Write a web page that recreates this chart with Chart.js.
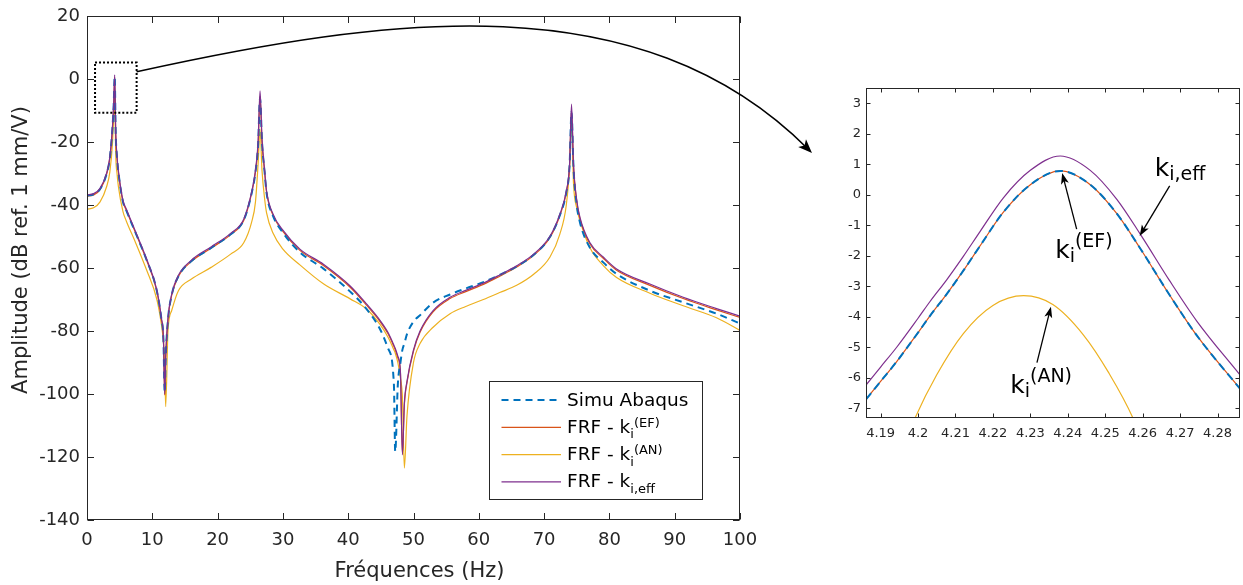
<!DOCTYPE html>
<html lang="fr">
<head>
  <meta charset="UTF-8">
  <title>FRF - zoom sur le premier mode</title>
  <script src="https://cdn.jsdelivr.net/npm/chart.js"></script>
  <style>
    body { margin: 0; background: #fff; }
    #page { position: relative; width: 1243px; height: 585px; overflow: hidden; }
    #boiteFRF { position: absolute; left: 0; top: 0; width: 760px; height: 585px; }
    #boiteZoom { position: absolute; left: 820px; top: 80px; width: 423px; height: 370px; }
    #fleche { position: absolute; left: 0; top: 0; pointer-events: none; }
  </style>
</head>
<body>
<div id="page">
  <div id="boiteFRF"><canvas id="graficoFRF"></canvas></div>
  <div id="boiteZoom"><canvas id="graficoZoom"></canvas></div>
  <canvas id="fleche" width="1243" height="585"></canvas>
</div>

<script>
// ---- valeurs (Hz, dB ref. 1 mm/V) ----
const freq = [0, 1, 2, 3, 3.5, 3.9, 4.1, 4.24, 4.4, 4.6,
  4.8, 5.5, 6, 7.35, 9.1, 10.7, 11.4, 11.7, 11.9, 12.05,
  12.4, 12.97, 14, 16, 19, 22, 24, 25.2, 25.8, 26.2,
  26.5, 26.8, 27.2, 27.5, 28.5, 30, 32.6, 36.2, 40.3, 42.8,
  44.9, 46.1, 47, 47.2, 47.6, 48, 48.3, 48.6, 49, 50,
  51, 53, 55.6, 58, 60.7, 63.2, 65.8, 68.4, 70.9, 72.4,
  73.4, 73.9, 74.2, 74.5, 75, 75.5, 77, 79.1, 81.1, 86.2,
  91.3, 96.4, 100];

const simuAbaqus = [-37, -36.6, -34.9, -30.1, -25, -15.6, -7.6, 0.8, -17.5, -25,
  -29.4, -38.9, -41.6, -48.4, -57.3, -67.3, -76.3, -82.5, -99.5, -88.5,
  -76.4, -68.6, -62.6, -57.8, -53.6, -49.3, -44.8, -36.4, -29.5, -21,
  -6, -20, -29.6, -36.2, -43.5, -48.8, -55, -60.2, -67.5, -73,
  -79.5, -85.5, -97, -118.3, -97, -90, -86, -84, -81, -77,
  -75, -71, -68.4, -66.5, -64.5, -62.2, -59.5, -55.8, -50.1, -43.3,
  -36, -27.6, -10.5, -28, -40, -45.6, -53.5, -58.3, -61.9, -67.2,
  -70.9, -74.5, -77.6];

const kEF = [-37.2, -36.8, -35.1, -30.3, -25.1, -15.6, -7.6, 0.8, -17.5, -25,
  -29.4, -38.9, -41.6, -48.4, -57.4, -67.4, -76.4, -82.4, -100.3, -88.4,
  -76.4, -68.7, -62.7, -57.9, -53.7, -49.4, -44.9, -36.4, -29.5, -21,
  -5.5, -19.8, -29.5, -36, -43.3, -48.4, -54.4, -59.2, -66.1, -71.8,
  -77.1, -80.9, -84.9, -85.9, -88.4, -93.4, -119, -103.4, -96.4, -86.4,
  -80.4, -73.9, -69.7, -67.5, -65.2, -62.6, -59.7, -56, -50.3, -43.4,
  -36, -27.5, -10, -27.5, -38.9, -44.4, -52.3, -57, -60.7, -65.5,
  -69.7, -73.3, -75.7];

const kAN = [-41.3, -40.9, -39, -34.2, -29.5, -20.4, -11, -3.3, -24, -30,
  -34, -42, -45, -51.5, -60.5, -70, -78, -83.5, -91, -104,
  -80, -73.5, -67.2, -63.5, -59.8, -55.6, -52, -45.5, -39, -27,
  -16, -29, -38, -42.5, -49, -54, -59, -65, -69.8, -73,
  -78, -82, -86, -87, -90, -95, -101, -123.5, -107, -90,
  -84, -78.8, -74.5, -72.2, -70, -67.8, -65.5, -62, -56.5, -49.3,
  -40, -28, -13, -33, -41, -45, -53.5, -59.3, -63, -68,
  -72, -75.8, -79.8];

const kEff = [-36.8, -36.4, -34.7, -29.9, -24.7, -15.1, -7, 1.3, -17, -24.5,
  -29, -38.5, -41.2, -48, -57, -67, -76, -82, -100, -88,
  -76, -68.3, -62.3, -57.5, -53.3, -49, -44.5, -36, -29, -20,
  -3.8, -19, -29, -35.6, -42.9, -48, -54, -58.8, -65.7, -71.4,
  -76.7, -80.5, -84.5, -85.5, -88, -93, -119.3, -103, -96, -86,
  -80, -73.5, -69.3, -67.1, -64.8, -62.2, -59.3, -55.6, -49.9, -43,
  -35.6, -27, -8, -27, -38.5, -44, -51.9, -56.6, -60.3, -65.1,
  -69.3, -72.9, -75.3];

const ticksFreq = [0, 10, 20, 30, 40, 50, 60, 70, 80, 90, 100];
const ticksDb = [-140, -120, -100, -80, -60, -40, -20, 0, 20];

// zoom autour du premier mode
const freqZoom = [4.1861, 4.19, 4.1943, 4.2, 4.2032, 4.2077, 4.2121, 4.2166, 4.2228, 4.23,
  4.238, 4.246, 4.2531, 4.2594, 4.2671, 4.2745, 4.286];
const simuZoom = [-6.71, -6.12, -5.47, -4.52, -3.97, -3.25, -2.49, -1.67, -0.57, 0.33,
  0.78, 0.33, -0.62, -1.77, -3.27, -4.62, -6.36];
const kEFZoom = [-6.71, -6.12, -5.47, -4.52, -3.97, -3.25, -2.49, -1.67, -0.57, 0.33,
  0.78, 0.33, -0.62, -1.77, -3.27, -4.62, -6.36];
const kEffZoom = [-6.24, -5.65, -5.0, -4.05, -3.5, -2.78, -2.02, -1.2, -0.1, 0.8,
  1.27, 0.8, -0.15, -1.3, -2.8, -4.15, -5.91];
const freqZoomAN = [4.19, 4.1992, 4.205, 4.2121, 4.22, 4.2282, 4.236, 4.2442, 4.251, 4.2574, 4.266];
const kANZoom = [-10.2, -7.32, -5.9, -4.55, -3.63, -3.31, -3.6, -4.6, -5.85, -7.32, -10.1];

const ticksFreqZoom = [4.19, 4.2, 4.21, 4.22, 4.23, 4.24, 4.25, 4.26, 4.27, 4.28];
const ticksDbZoom = [-7, -6, -5, -4, -3, -2, -1, 0, 1, 2, 3];

// cadre pointillé (Hz, dB) et départ de la flèche courbe
const cadreZoomF = [1.23, 7.6];
const cadreZoomDb = [-10.7, 5.2];
const departFlecheDb = 2.3;

const BLEU = '#0072BD', ROUGE = '#D95319', JAUNE = '#EDB120', VIOLET = '#7E2F8E';
const GRIS = '#262626';
const POLICE = '"DejaVu Sans", sans-serif';

Chart.defaults.font.family = POLICE;
Chart.defaults.color = GRIS;

function points(xs, ys) {
  return xs.map((x, i) => ({ x: x, y: ys[i] }));
}

function serie(label, xs, ys, couleur, largeur, tirets, ordre) {
  return {
    label: label, data: points(xs, ys),
    borderColor: couleur, backgroundColor: couleur,
    borderWidth: largeur, borderDash: tirets,
    pointRadius: 0, fill: false, order: ordre,
    cubicInterpolationMode: 'monotone'
  };
}

// pas de marge automatique pour les étiquettes qui débordent
function sansMarge(s) {
  s.paddingLeft = 0; s.paddingRight = 0; s.paddingTop = 0; s.paddingBottom = 0;
}

// texte avec indices (1) et exposants (-1)
function texteRiche(ctx, x, y, morceaux, grand, petit, dInd, dExp) {
  let cx = x;
  morceaux.forEach(([t, k]) => {
    ctx.font = (k === 0 ? grand : petit) + 'px ' + POLICE;
    const dy = k === 1 ? dInd : (k === -1 ? dExp : 0);
    ctx.fillText(t, cx, y + dy);
    cx += ctx.measureText(t).width;
  });
}

function pointeFleche(ctx, x0, y0, x1, y1, long, demi) {
  const a = Math.atan2(y1 - y0, x1 - x0), c = Math.cos(a), s = Math.sin(a);
  ctx.beginPath();
  ctx.moveTo(x1, y1);
  ctx.lineTo(x1 - long * c + demi * s, y1 - long * s - demi * c);
  ctx.lineTo(x1 - 0.75 * long * c, y1 - 0.75 * long * s);
  ctx.lineTo(x1 - long * c - demi * s, y1 - long * s + demi * c);
  ctx.closePath();
  ctx.fill();
}

// axes en boîte, graduations vers l'intérieur
const cadre = {
  id: 'cadre',
  afterDatasetsDraw(chart, args, opts) {
    const { ctx, chartArea: a, scales: { x, y } } = chart;
    const L = Math.round(a.left) + 0.5, R = Math.round(a.right) - 0.5;
    const T = Math.round(a.top) + 0.5, B = Math.round(a.bottom) - 0.5;
    const t = opts.tick;
    ctx.save();
    ctx.strokeStyle = GRIS;
    ctx.lineWidth = 1;
    ctx.strokeRect(L, T, R - L, B - T);
    ctx.beginPath();
    x.ticks.forEach(tk => {
      const p = Math.round(x.getPixelForValue(tk.value)) + 0.5;
      ctx.moveTo(p, B); ctx.lineTo(p, B - t);
      ctx.moveTo(p, T); ctx.lineTo(p, T + t);
    });
    y.ticks.forEach(tk => {
      const p = Math.round(y.getPixelForValue(tk.value)) + 0.5;
      ctx.moveTo(L, p); ctx.lineTo(L + t, p);
      ctx.moveTo(R, p); ctx.lineTo(R - t, p);
    });
    ctx.stroke();
    ctx.restore();
  }
};

const legendeFRF = [
  { morceaux: [['Simu Abaqus', 0]], couleur: BLEU, largeur: 2, tirets: [7, 5] },
  { morceaux: [['FRF - k', 0], ['i', 1], ['(EF)', -1]], couleur: ROUGE, largeur: 1.2, tirets: [] },
  { morceaux: [['FRF - k', 0], ['i', 1], ['(AN)', -1]], couleur: JAUNE, largeur: 1.2, tirets: [] },
  { morceaux: [['FRF - k', 0], ['i,eff', 1]], couleur: VIOLET, largeur: 1.2, tirets: [] }
];

const annotFRF = {
  id: 'annotFRF',
  afterDraw(chart) {
    const { ctx, chartArea: a, scales: { x, y } } = chart;
    ctx.save();
    // cadre pointillé autour du premier pic
    const x0 = x.getPixelForValue(cadreZoomF[0]), x1 = x.getPixelForValue(cadreZoomF[1]);
    const y0 = y.getPixelForValue(cadreZoomDb[0]), y1 = y.getPixelForValue(cadreZoomDb[1]);
    ctx.strokeStyle = '#000';
    ctx.lineWidth = 2;
    ctx.setLineDash([2, 2]);
    ctx.strokeRect(x0, y1, x1 - x0, y0 - y1);
    ctx.setLineDash([]);

    // légende
    const bx = Math.round(a.right - 251.5) + 0.5, by = Math.round(a.bottom - 139.5) + 0.5;
    ctx.fillStyle = '#fff';
    ctx.fillRect(bx, by, 213, 118);
    ctx.strokeStyle = GRIS;
    ctx.lineWidth = 1;
    ctx.strokeRect(bx, by, 213, 118);
    legendeFRF.forEach((e, i) => {
      const ly = by + 18.5 + i * 27.3;
      ctx.strokeStyle = e.couleur;
      ctx.lineWidth = e.largeur;
      ctx.setLineDash(e.tirets);
      ctx.beginPath();
      ctx.moveTo(bx + 12, ly);
      ctx.lineTo(bx + 71.5, ly);
      ctx.stroke();
      ctx.setLineDash([]);
      ctx.fillStyle = '#000';
      ctx.textBaseline = 'alphabetic';
      ctx.textAlign = 'left';
      texteRiche(ctx, bx + 77.5, ly + 5.5, e.morceaux, 18.5, 13, 5.5, -6);
    });

    // titres des axes
    ctx.fillStyle = GRIS;
    ctx.font = '21px ' + POLICE;
    ctx.textAlign = 'center';
    ctx.textBaseline = 'middle';
    ctx.fillText('Fréquences (Hz)', (a.left + a.right) / 2 + 6, a.bottom + 52);
    ctx.translate(a.left - 65, (a.top + a.bottom) / 2 - 18);
    ctx.rotate(-Math.PI / 2);
    ctx.fillText('Amplitude (dB ref. 1 mm/V)', 0, 0);
    ctx.restore();
  }
};

const frf = new Chart(document.getElementById('graficoFRF'), {
  type: 'line',
  data: {
    datasets: [
      serie('FRF - k i,eff', freq, kEff, VIOLET, 1.2, [], 0),
      serie('Simu Abaqus', freq, simuAbaqus, BLEU, 2, [7, 5], 1),
      serie('FRF - k i (EF)', freq, kEF, ROUGE, 1.2, [], 2),
      serie('FRF - k i (AN)', freq, kAN, JAUNE, 1.2, [], 3)
    ]
  },
  options: {
    responsive: true,
    maintainAspectRatio: false,
    animation: false,
    devicePixelRatio: 1,
    layout: { padding: { left: 0, top: 16, right: 20, bottom: 0 } },
    plugins: { legend: { display: false }, tooltip: { enabled: false }, cadre: { tick: 6.5 } },
    scales: {
      x: {
        type: 'linear', min: 0, max: 100,
        afterBuildTicks: s => { s.ticks = ticksFreq.map(v => ({ value: v })); },
        afterFit: s => { s.height = 65; sansMarge(s); },
        grid: { display: false, drawTicks: false },
        border: { display: false },
        ticks: { font: { size: 18 }, padding: 10, maxRotation: 0, autoSkip: false, callback: v => String(v) }
      },
      y: {
        type: 'linear', min: -140, max: 20,
        afterBuildTicks: s => { s.ticks = ticksDb.map(v => ({ value: v })); },
        afterFit: s => { s.width = 87; sansMarge(s); },
        grid: { display: false, drawTicks: false },
        border: { display: false },
        ticks: { font: { size: 18 }, padding: 7, autoSkip: false, callback: v => String(v) }
      }
    }
  },
  plugins: [cadre, annotFRF]
});

// flèches et étiquettes du zoom : pointe en données, queue et texte en décalage (px)
const notesZoom = [
  { pointe: [4.2592, -1.35], queue: [30, -50], texte: [15, -60], morceaux: [['k', 0], ['i,eff', 1]] },
  { pointe: [4.2385, 0.71], queue: [14.5, 56], texte: [-7, 85], morceaux: [['k', 0], ['i', 1], ['(EF)', -1]] },
  { pointe: [4.2355, -3.67], queue: [-14, 56], texte: [-40.7, 86.6], morceaux: [['k', 0], ['i', 1], ['(AN)', -1]] }
];

const annotZoom = {
  id: 'annotZoom',
  afterDraw(chart) {
    const { ctx, scales: { x, y } } = chart;
    ctx.save();
    ctx.strokeStyle = '#000';
    ctx.fillStyle = '#000';
    ctx.lineWidth = 1.3;
    notesZoom.forEach(n => {
      const px = x.getPixelForValue(n.pointe[0]), py = y.getPixelForValue(n.pointe[1]);
      const qx = px + n.queue[0], qy = py + n.queue[1];
      ctx.beginPath();
      ctx.moveTo(qx, qy);
      ctx.lineTo(px + (qx - px) * 0.12, py + (qy - py) * 0.12);
      ctx.stroke();
      pointeFleche(ctx, qx, qy, px, py, 11, 4);
      ctx.textAlign = 'left';
      ctx.textBaseline = 'alphabetic';
      texteRiche(ctx, px + n.texte[0], py + n.texte[1], n.morceaux, 25, 19, 4, -11.5);
    });
    ctx.restore();
  }
};

const zoom = new Chart(document.getElementById('graficoZoom'), {
  type: 'line',
  data: {
    datasets: [
      serie('FRF - k i,eff', freqZoom, kEffZoom, VIOLET, 1.2, [], 0),
      serie('Simu Abaqus', freqZoom, simuZoom, BLEU, 2, [8, 5], 1),
      serie('FRF - k i (EF)', freqZoom, kEFZoom, ROUGE, 1.2, [], 2),
      serie('FRF - k i (AN)', freqZoomAN, kANZoom, JAUNE, 1.2, [], 3)
    ]
  },
  options: {
    responsive: true,
    maintainAspectRatio: false,
    animation: false,
    devicePixelRatio: 1,
    layout: { padding: { left: 0, top: 8, right: 3, bottom: 0 } },
    plugins: { legend: { display: false }, tooltip: { enabled: false }, cadre: { tick: 4 } },
    scales: {
      x: {
        type: 'linear', min: 4.1861, max: 4.286,
        afterBuildTicks: s => { s.ticks = ticksFreqZoom.map(v => ({ value: v })); },
        afterFit: s => { s.height = 32; sansMarge(s); },
        grid: { display: false, drawTicks: false },
        border: { display: false },
        ticks: { font: { size: 13 }, padding: 8, maxRotation: 0, autoSkip: false, callback: v => String(+v.toFixed(2)) }
      },
      y: {
        type: 'linear', min: -7.32, max: 3.5,
        afterBuildTicks: s => { s.ticks = ticksDbZoom.map(v => ({ value: v })); },
        afterFit: s => { s.width = 46; sansMarge(s); },
        grid: { display: false, drawTicks: false },
        border: { display: false },
        ticks: { font: { size: 13 }, padding: 5, autoSkip: false, callback: v => String(v) }
      }
    }
  },
  plugins: [cadre, annotZoom]
});

// flèche courbe du cadre pointillé vers le zoom
function flecheCourbe() {
  const ctx = document.getElementById('fleche').getContext('2d');
  const boite = document.getElementById('boiteZoom');
  const sx = frf.scales.x.getPixelForValue(cadreZoomF[1]);
  const sy = frf.scales.y.getPixelForValue(departFlecheDb);
  const ex = boite.offsetLeft + zoom.chartArea.left - 54;
  const ey = boite.offsetTop + zoom.chartArea.top + 65;
  const c1x = sx + 250, c1y = sy - 55, c2x = ex - 172, c2y = ey - 172;
  ctx.strokeStyle = '#000';
  ctx.fillStyle = '#000';
  ctx.lineWidth = 1.5;
  ctx.beginPath();
  ctx.moveTo(sx, sy);
  ctx.bezierCurveTo(c1x, c1y, c2x, c2y, ex - 4, ey - 4);
  ctx.stroke();
  pointeFleche(ctx, c2x, c2y, ex, ey, 14, 5.5);
}
flecheCourbe();
</script>
</body>
</html>
